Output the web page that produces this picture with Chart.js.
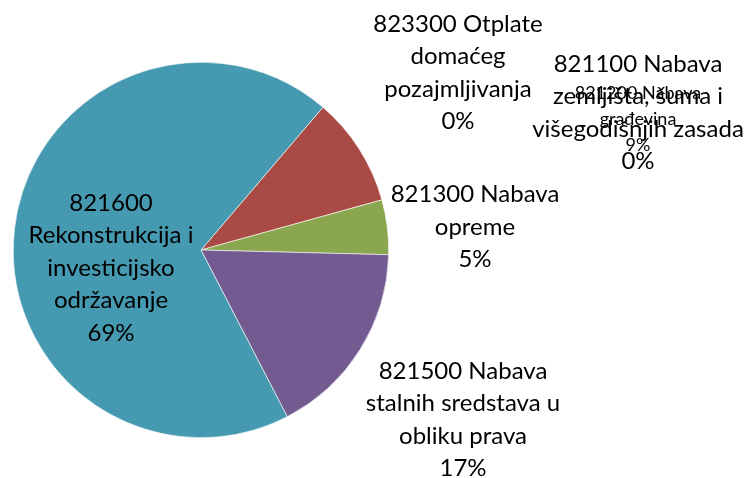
<!DOCTYPE html>
<html>
<head>
<meta charset="utf-8">
<script src="https://cdn.jsdelivr.net/npm/chart.js@4.4.1/dist/chart.umd.min.js"></script>
<style>
  html, body { margin: 0; padding: 0; background: #fff; }
</style>
</head>
<body>
<canvas id="myChart" width="752" height="478"></canvas>
<script>
// podaci
const categories = ['821100', '821200', '821300', '821500', '821600', '823300'];
const labelLines = [
  ['821100 Nabava', 'zemljišta, šuma i', 'višegodišnjih zasada'],
  ['821200 Nabava', 'građevina'],
  ['821300 Nabava', 'opreme'],
  ['821500 Nabava', 'stalnih sredstava u', 'obliku prava'],
  ['821600', 'Rekonstrukcija i', 'investicijsko', 'održavanje'],
  ['823300 Otplate', 'domaćeg', 'pozajmljivanja']
];
const values = [0, 9.45, 4.7, 17.0, 68.85, 0];
const colors = ['#4A7EBB', '#A94A45', '#8AA64F', '#735A90', '#4599B0', '#F59D56'];

// gdje stoje natpisi (centar bloka teksta) i velicina fonta
const labelPos = [
  { x: 638, y: 113, size: 24, lh: 32.5 },
  { x: 638, y: 119, size: 18, lh: 26 },
  { x: 475, y: 227, size: 24, lh: 32.5 },
  { x: 463, y: 420, size: 24, lh: 32.5 },
  { x: 111, y: 268, size: 24, lh: 32.5 },
  { x: 458, y: 73, size: 24, lh: 32.5 }
];

const labelPlugin = {
  id: 'pieLabels',
  afterDraw(chart) {
    const ctx = chart.ctx;
    const total = values.reduce((a, b) => a + b, 0);
    ctx.save();
    ctx.fillStyle = '#000';
    ctx.textAlign = 'center';
    ctx.textBaseline = 'middle';
    // 821100 ide zadnji da se preklapa kao u originalu
    const order = [5, 4, 3, 2, 1, 0];
    order.forEach(i => {
      const p = labelPos[i];
      const lines = labelLines[i].concat([Math.round(values[i] / total * 100) + '%']);
      ctx.font = p.size + 'px Lato';
      const top = p.y - (lines.length - 1) * p.lh / 2;
      lines.forEach((t, k) => ctx.fillText(t, p.x, top + k * p.lh));
    });
    ctx.restore();
  }
};

const chart = new Chart(document.getElementById('myChart').getContext('2d'), {
  type: 'pie',
  data: {
    labels: categories,
    datasets: [{
      data: values,
      backgroundColor: colors,
      borderColor: '#ffffff',
      borderWidth: 0.6
    }]
  },
  options: {
    responsive: false,
    animation: false,
    rotation: 40.5,
    layout: { padding: { left: 13, top: 62, right: 363, bottom: 40 } },
    plugins: {
      legend: { display: false },
      tooltip: { enabled: false }
    }
  },
  plugins: [labelPlugin]
});
</script>
</body>
</html>
